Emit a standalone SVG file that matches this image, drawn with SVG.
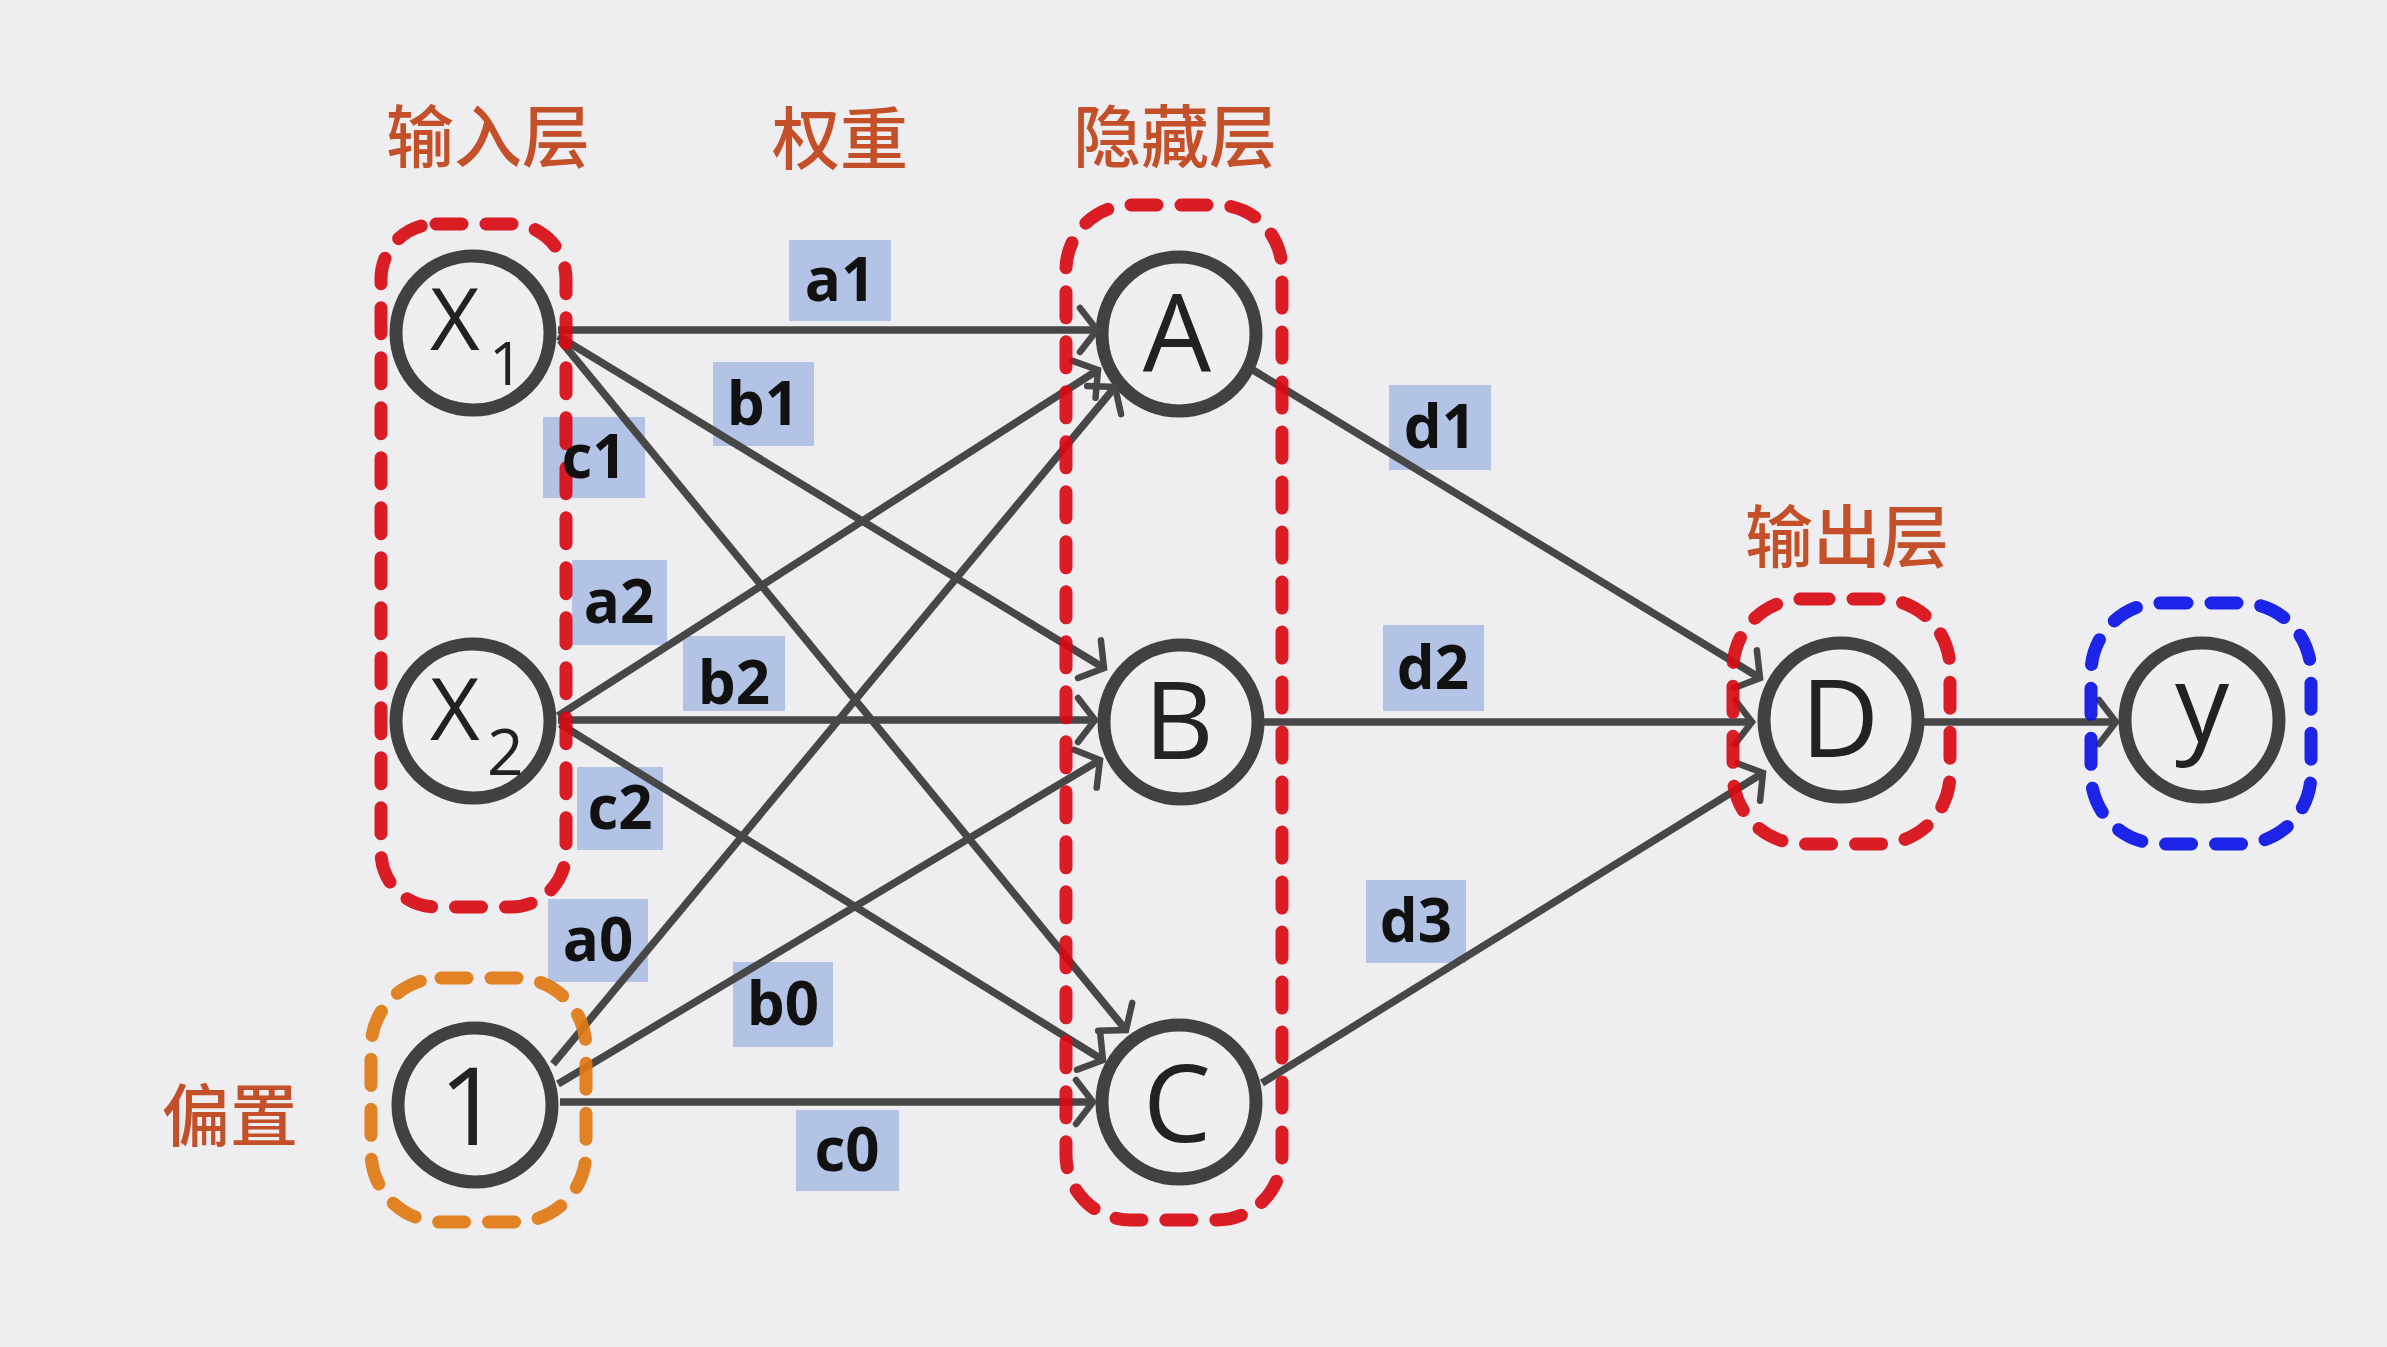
<svg xmlns="http://www.w3.org/2000/svg" width="2387" height="1347" viewBox="0 0 2387 1347">
<defs>
<style>
.node circle{fill:#EFEEF0;stroke:#414141;stroke-width:13}
.nt{font-family:"Open Sans","Noto Sans","DejaVu Sans",sans-serif;font-weight:500;fill:#222;font-size:108px;text-anchor:middle}
.xt{font-family:"Open Sans","Noto Sans","DejaVu Sans",sans-serif;font-weight:500;fill:#222}
.edge{stroke:#474747;stroke-width:7.5;fill:none;marker-end:url(#arr)}
.frame{fill:none;stroke-width:13;stroke-linecap:round;stroke-dasharray:26 24;opacity:0.92}
.wbox{fill:#B2C3E5}
.wt{font-family:"Open Sans","Liberation Sans",sans-serif;font-weight:bold;font-size:60px;fill:#111;text-anchor:middle}
.title{font-family:"Noto Sans CJK SC","Noto Sans CJK TC",sans-serif;font-weight:500;font-size:68px;fill:#C4502A;text-anchor:middle}
</style>
<marker id="arr" markerUnits="userSpaceOnUse" viewBox="-30 -30 40 60" refX="0" refY="0" markerWidth="40" markerHeight="60" orient="auto" overflow="visible">
<path d="M-17,-22 L0,0 L-17,22" fill="none" stroke="#474747" stroke-width="6.5" stroke-linecap="round"/>
</marker>
</defs>
<rect x="0" y="0" width="2387" height="1347" fill="#EEEDEF"/>

<g id="titles">
<text class="title" x="488" y="162">输入层</text>
<text class="title" x="840" y="164">权重</text>
<text class="title" x="1175" y="162">隐藏层</text>
<text class="title" x="1847" y="562">输出层</text>
<text class="title" x="230" y="1141">偏置</text>
</g>

<g id="weight-boxes">
<rect class="wbox" x="789" y="240" width="102" height="81"/>
<rect class="wbox" x="713" y="362" width="101" height="84"/>
<rect class="wbox" x="543" y="417" width="102" height="81"/>
<rect class="wbox" x="572" y="560" width="95" height="85"/>
<rect class="wbox" x="683" y="636" width="102" height="75"/>
<rect class="wbox" x="577" y="767" width="86" height="83"/>
<rect class="wbox" x="548" y="899" width="100" height="83"/>
<rect class="wbox" x="733" y="962" width="100" height="85"/>
<rect class="wbox" x="796" y="1110" width="103" height="81"/>
<rect class="wbox" x="1389" y="385" width="102" height="85"/>
<rect class="wbox" x="1383" y="625" width="101" height="86"/>
<rect class="wbox" x="1366" y="880" width="100" height="83"/>
</g>

<g id="node-x1" class="node">
<circle cx="473" cy="333" r="77"/>
<text class="xt" x="430" y="350" font-size="86">X</text>
<text class="xt" x="489" y="385" font-size="60">1</text>
</g>
<g id="node-x2" class="node">
<circle cx="473" cy="721" r="77"/>
<text class="xt" x="430" y="740" font-size="86">X</text>
<text class="xt" x="487" y="775" font-size="64">2</text>
</g>
<g id="node-bias" class="node">
<circle cx="475" cy="1105" r="77"/>
<text class="nt" x="470" y="1145">1</text>
</g>
<g id="node-a" class="node">
<circle cx="1179" cy="334" r="77"/>
<text class="nt" x="1177" y="372">A</text>
</g>
<g id="node-b" class="node">
<circle cx="1181" cy="722" r="77"/>
<text class="nt" x="1179" y="759">B</text>
</g>
<g id="node-c" class="node">
<circle cx="1179" cy="1102" r="77"/>
<text class="nt" x="1177" y="1142">C</text>
</g>
<g id="node-d" class="node">
<circle cx="1841" cy="720" r="77"/>
<text class="nt" x="1840" y="757">D</text>
</g>
<g id="node-y" class="node">
<circle cx="2202" cy="720" r="77"/>
<text class="nt" x="2202" y="742">y</text>
</g>

<g id="connectors">
<line class="edge" x1="558" y1="330" x2="1097" y2="330"/>
<line class="edge" x1="558" y1="336" x2="1104" y2="668"/>
<line class="edge" x1="560" y1="340" x2="1126" y2="1030"/>
<line class="edge" x1="558" y1="716" x2="1098" y2="370"/>
<line class="edge" x1="558" y1="720" x2="1095" y2="720"/>
<line class="edge" x1="560" y1="724" x2="1103" y2="1060"/>
<line class="edge" x1="553" y1="1064" x2="1115" y2="387"/>
<line class="edge" x1="558" y1="1084" x2="1100" y2="760"/>
<line class="edge" x1="560" y1="1102" x2="1093" y2="1102"/>
<line class="edge" x1="1253" y1="370" x2="1760" y2="678"/>
<line class="edge" x1="1263" y1="722" x2="1752" y2="722"/>
<line class="edge" x1="1262" y1="1083" x2="1763" y2="773"/>
<line class="edge" x1="1923" y1="722" x2="2116" y2="722"/>
</g>

<g id="frames">
<rect id="frame-input" class="frame" stroke="#D80A14" x="381" y="224" width="185" height="683" rx="55"/>
<rect id="frame-hidden" class="frame" stroke="#D80A14" x="1066" y="205" width="216" height="1015" rx="65"/>
<rect id="frame-bias" class="frame" stroke="#E07A14" x="371" y="978" width="215" height="244" rx="70"/>
<rect id="frame-output" class="frame" stroke="#D80A14" x="1733" y="599" width="217" height="245" rx="70"/>
<rect id="frame-y" class="frame" stroke="#0A14E6" x="2091" y="603" width="220" height="241" rx="70"/>
</g>

<g id="weight-labels">
<text class="wt" x="840" y="301">a1</text>
<text class="wt" x="763" y="425">b1</text>
<text class="wt" x="594" y="478">c1</text>
<text class="wt" x="619" y="623">a2</text>
<text class="wt" x="734" y="704">b2</text>
<text class="wt" x="620" y="829">c2</text>
<text class="wt" x="598" y="961">a0</text>
<text class="wt" x="783" y="1025">b0</text>
<text class="wt" x="847" y="1171">c0</text>
<text class="wt" x="1440" y="448">d1</text>
<text class="wt" x="1433" y="689">d2</text>
<text class="wt" x="1416" y="942">d3</text>
</g>
</svg>
